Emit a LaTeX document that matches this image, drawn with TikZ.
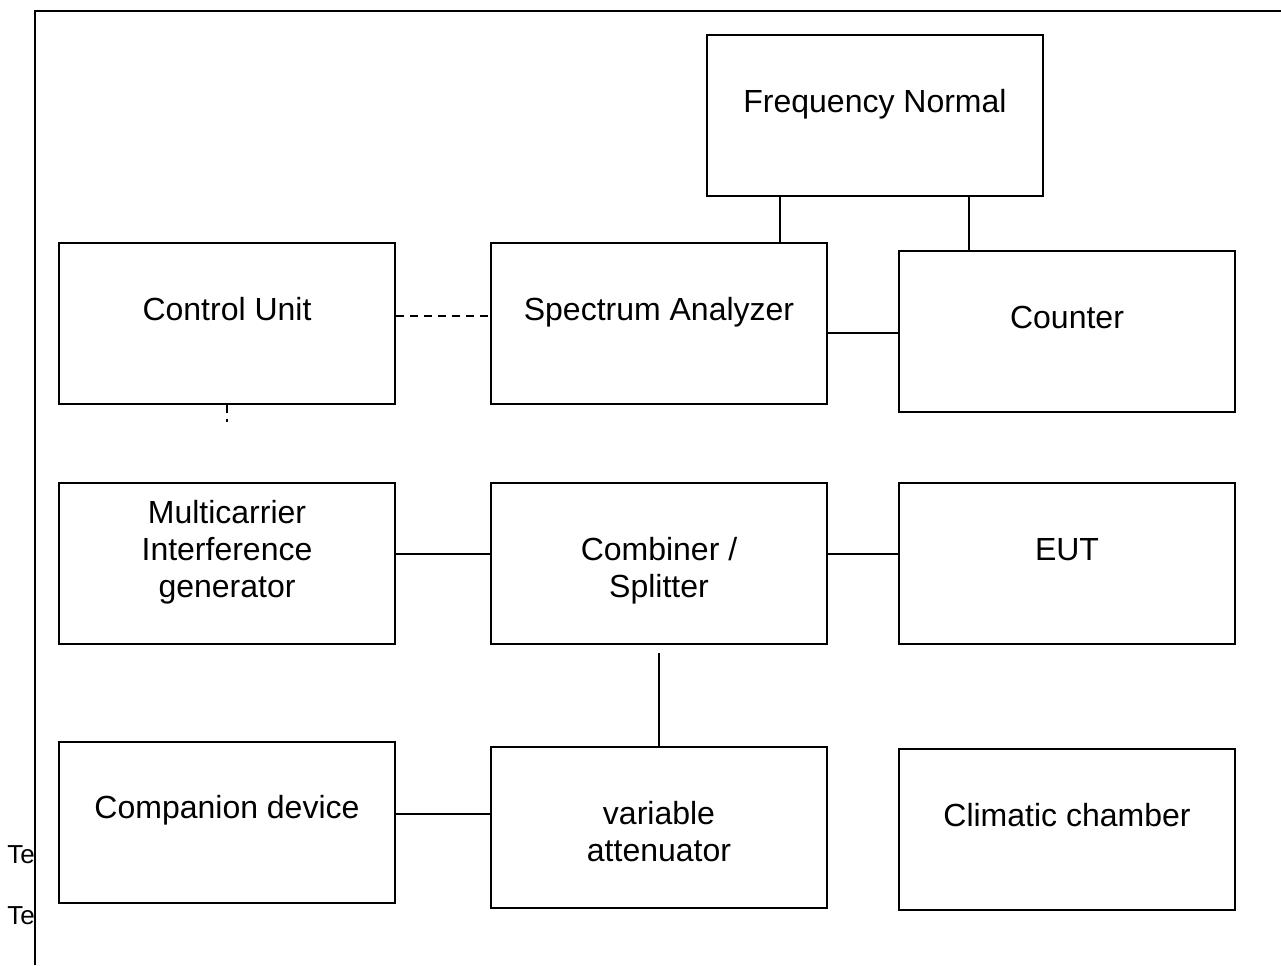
\documentclass[tikz,border=0pt]{standalone}
\usepackage{fontspec}
\setmainfont{Liberation Sans}
\usetikzlibrary{positioning}
\tikzset{
block/.style={ % Sets the properties for each unit box
draw, line width=1pt,
minimum width=168pt, minimum height=80.5pt,
inner sep=0pt},
lbl/.style={ % text inside a box, placed by its (last) baseline
font=\fontsize{16}{18.5}\selectfont,
align=center, inner sep=0pt, anchor=base},
link/.style={ % Sets the properties for each connection
draw, line width=1pt},
}

\begin{document}
\begin{tikzpicture}[x=0.5pt,y=-0.5pt]
\useasboundingbox (0,0) rectangle (1281,965);
% cut-off notes on the left
\node[anchor=base west, inner sep=0pt, font=\fontsize{13}{14}\selectfont] (te1) at (7,863) {Te};
\node[anchor=base west, inner sep=0pt, font=\fontsize{13}{14}\selectfont] (te2) at (7,924) {Te};
% frame
\draw[line width=1.3pt] (35,965) -- (35,11) -- (1281,11);
% boxes
\node[block] (fn) at (875,115) {};
\node[block] (cu) at (227,323.5) {};
\node[block] (sa) at (658.5,323.5) {};
\node[block] (counter) at (1067,331) {};
\node[block] (mig) at (227,563) {};
\node[block] (comb) at (658.5,563) {};
\node[block] (eut) at (1067,563) {};
\node[block] (comp) at (227,822.5) {};
\node[block] (att) at (658.5,827.5) {};
\node[block] (clim) at (1067,829) {};
% labels
\node[lbl] (fnT) at (875,112) {Frequency Normal};
\node[lbl] (cuT) at (227,320) {Control Unit};
\node[lbl] (saT) at (659,320) {Spectrum Analyzer};
\node[lbl] (counterT) at (1067,328) {Counter};
\node[lbl] (migT) at (227,597) {Multicarrier\\Interference\\generator};
\node[lbl] (combT) at (659,597) {Combiner /\\Splitter};
\node[lbl] (eutT) at (1067,560) {EUT};
\node[lbl] (compT) at (227,818) {Companion device};
\node[lbl] (attT) at (659,861) {variable\\attenuator};
\node[lbl] (climT) at (1067,826) {Climatic chamber};
% connections
\coordinate (cuend) at (227,422);
\draw[link] ([xshift=-24pt]sa.north east) -- ([xshift=-24pt]sa.north east |- fn.south);
\draw[link] ([xshift=35.5pt]counter.north west) -- ([xshift=35.5pt]counter.north west |- fn.south);
\draw[link] ([yshift=-1pt]counter.west) -- ([yshift=-1pt]counter.west -| sa.east);
\draw[link, dash pattern=on 4pt off 3pt] ([yshift=3.75pt]cu.east) -- ([yshift=3.75pt]cu.east -| sa.west);
\draw[link, dash pattern=on 4pt off 3pt] (cu.south) -- (cuend);
\draw[link] ([yshift=4.5pt]mig.east) -- ([yshift=4.5pt]mig.east -| comb.west);
\draw[link] ([yshift=4.5pt]comb.east) -- ([yshift=4.5pt]comb.east -| eut.west);
\draw[link] (att.north) -- ([yshift=-4pt]comb.south);
\draw[link] ([yshift=4.25pt]comp.east) -- ([yshift=4.25pt]comp.east -| att.west);
\end{tikzpicture}
\end{document}
